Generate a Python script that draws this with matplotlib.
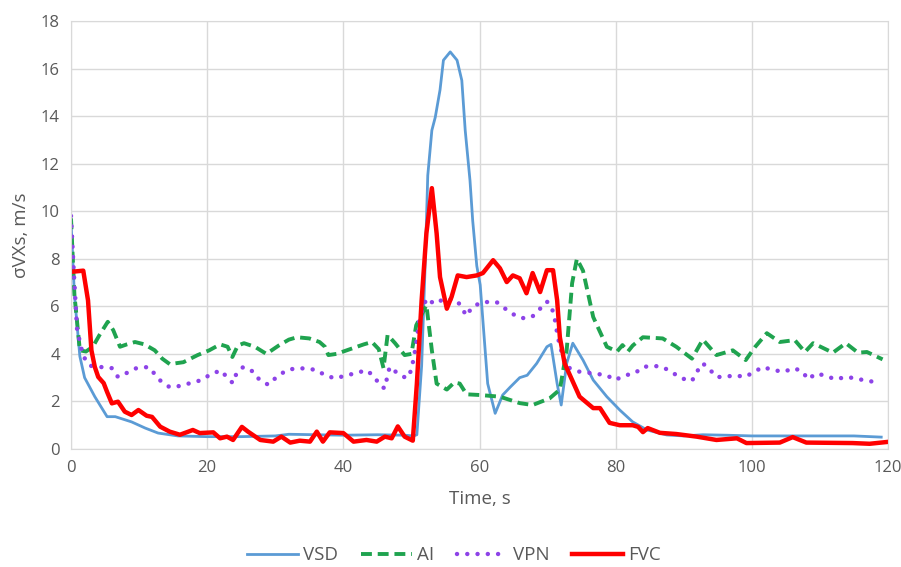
import matplotlib
matplotlib.use("Agg")
import matplotlib.pyplot as plt

plt.rcParams['font.family'] = ['Open Sans', 'DejaVu Sans']

# VSD (blue)
t_vsd = [0, 0.5, 1.3, 2, 3.5, 5.3, 6.5, 8.9, 10.9, 12.8, 15.7, 20, 25, 30, 32, 36, 40, 45, 49,
         50.3, 50.8, 51.5, 52, 52.4, 53, 53.5, 54.2, 54.7, 55.7, 56.7, 57.4, 57.9, 58.6, 59, 59.6,
         60.1, 61.2, 62.3, 63.4, 64.5, 65.9, 67, 68.4, 69.9, 70.5, 71.4, 72, 72.8, 73.7, 75.2,
         76.7, 78.7, 80.6, 82.5, 84.6, 87.5, 90, 92.8, 96.3, 100, 105, 110, 115, 119]
vsd = [9.6, 6.5, 3.9, 3.0, 2.2, 1.36, 1.36, 1.14, 0.88, 0.67, 0.55, 0.52, 0.52, 0.55, 0.62, 0.6, 0.58, 0.6, 0.58,
       0.55, 0.6, 3.5, 7.6, 11.5, 13.4, 13.95, 15.1, 16.35, 16.7, 16.35, 15.5, 13.4, 11.3, 9.6, 7.7,
       6.9, 2.75, 1.5, 2.27, 2.6, 3.0, 3.1, 3.6, 4.3, 4.4, 2.75, 1.85, 3.6, 4.45, 3.74,
       2.9, 2.2, 1.64, 1.14, 0.8, 0.59, 0.55, 0.6, 0.58, 0.55, 0.55, 0.55, 0.55, 0.5]

# AI (green dashed)
t_ai = [0, 0.5, 1.3, 2.2, 3.2, 4.2, 5.4, 6.2, 7.2, 8.2, 9.4, 10.8, 12.3, 13.4, 14.5, 16.5, 18.6,
        20.3, 21.9, 23, 23.7, 24.5, 25.4, 27, 28.7, 30.5, 32, 33.2, 35, 36.5, 37.3, 37.8, 39, 41,
        43, 44.2, 45.2, 45.9, 46.5, 47.6, 49, 50, 50.7, 52.2, 53, 53.7, 55.2, 56.3, 57.1, 58.1,
        60.1, 63, 65.9, 67.8, 70.3, 71.8, 72.8, 73.6, 74.3, 75.2, 76.7, 78.7, 80.2, 81, 81.8,
        82.5, 84, 86.9, 88.9, 91.2, 92.8, 94.8, 97.2, 99.1, 100.5, 102.2, 104.1, 106.3, 107.8,
        109, 111.9, 113.8, 115.6, 116.9, 119.2]
ai = [9.7, 6.5, 4.15, 4.1, 4.3, 4.8, 5.35, 5.0, 4.3, 4.4, 4.5, 4.4, 4.15, 3.8, 3.57, 3.65, 3.95,
      4.15, 4.4, 4.3, 3.87, 4.35, 4.45, 4.3, 4.0, 4.35, 4.6, 4.7, 4.65, 4.5, 4.3, 3.95, 4.0, 4.2,
      4.4, 4.5, 4.2, 3.4, 4.8, 4.45, 3.95, 4.0, 5.2, 6.05, 4.15, 2.75, 2.5, 2.8, 2.75, 2.3,
      2.27, 2.2, 1.93, 1.85, 2.13, 2.5, 4.15, 6.97, 8.0, 7.5, 5.55, 4.3, 4.1, 4.37, 4.1,
      4.35, 4.7, 4.65, 4.3, 3.8, 4.6, 3.95, 4.15, 3.74, 4.3, 4.87, 4.5, 4.58, 4.08,
      4.45, 4.05, 4.45, 4.05, 4.08, 3.77]

# VPN (purple dotted)
t_vpn = [0, 0.4, 0.9, 1.8, 2.8, 4.3, 6, 6.9, 8.2, 9.6, 11.4, 13.3, 14.5, 16, 17.5, 19.2, 20.7, 22.1,
         23, 23.8, 24.3, 25.3, 26.8, 27.7, 29, 30.2, 31.7, 33.2, 34.7, 36.1, 37.3, 38.8, 40.5, 42,
         43.4, 44.6, 45.4, 46.1, 46.4, 46.8, 48, 49.3, 50, 50.6, 51.2, 52.2, 53.4, 54.9, 56.7, 58.1,
         58.9, 60.4, 62.5, 64.7, 66.2, 67.7, 68.9, 69.9, 70.6, 71.1, 71.5, 72.1, 72.8, 74.7, 76.7,
         78.7, 79.9, 81.4, 82.8, 84, 85.5, 86.9, 88.4, 89.7, 91.2, 91.9, 92.8, 93.8, 94.8, 96, 97.5,
         99, 100.4, 101.6, 103.1, 104.7, 106.2, 107.5, 108.2, 109.5, 110.9, 112.3, 113.8, 115.3,
         116.9, 118.4]
vpn = [9.8, 7.5, 5.0, 3.9, 3.5, 3.45, 3.4, 3.03, 3.2, 3.4, 3.45, 2.82, 2.6, 2.65, 2.77, 2.9, 3.18, 3.3,
       2.97, 2.77, 3.18, 3.45, 3.25, 2.9, 2.7, 3.03, 3.32, 3.4, 3.38, 3.32, 3.1, 2.97, 3.1, 3.2,
       3.32, 3.03, 2.65, 2.55, 2.97, 3.45, 3.18, 2.97, 3.32, 4.24, 5.5, 6.33, 6.1, 6.33, 6.25, 5.6,
       5.97, 6.18, 6.18, 5.7, 5.5, 5.55, 5.9, 6.2, 5.97, 5.4, 4.7, 4.03, 3.45, 3.25, 3.18,
       3.1, 2.9, 3.1, 3.18, 3.45, 3.5, 3.45, 3.2, 2.97, 2.86, 3.24, 3.6, 3.35, 3.03, 3.03, 3.1,
       3.03, 3.25, 3.45, 3.32, 3.25, 3.4, 3.25, 2.93, 3.18, 3.07, 2.93, 3.03, 2.97,
       2.86, 2.82]

# FVC (red)
t_fvc = [0, 1.8, 2.5, 3, 3.5, 4, 4.8, 5.3, 6, 6.9, 7.9, 8.9, 9.9, 11.1, 11.9, 13.1, 14.5, 16, 17.9,
         18.9, 20.9, 21.9, 22.9, 23.8, 25.1, 26, 27.8, 29.7, 30.9, 32.2, 33.6, 35.1, 36.1, 37, 38,
         40, 41.5, 43.4, 44.9, 46.1, 47.1, 48, 49, 50.2, 50.8, 51.5, 52.2, 53, 53.7, 54.2, 55.2,
         55.9, 56.8, 58.1, 59.6, 60.5, 62, 63, 64, 64.9, 65.9, 66.9, 67.8, 68.9, 69.9, 70.8, 71.4,
         71.8, 72.5, 73.6, 74.7, 76.7, 77.7, 79.1, 80.6, 82.5, 83.3, 84, 84.7, 86.5, 88.9, 91.9,
         94.8, 97.8, 99.2, 104.1, 106, 108, 114.8, 117.3, 120]
fvc = [7.45, 7.5, 6.25, 4.15, 3.45, 3.03, 2.77, 2.4, 1.92, 1.99, 1.57, 1.43, 1.64, 1.4, 1.35, 0.94, 0.73, 0.6, 0.8,
       0.67, 0.7, 0.45, 0.52, 0.38, 0.93, 0.73, 0.38, 0.31, 0.52, 0.27, 0.35, 0.31, 0.73, 0.31, 0.7,
       0.67, 0.31, 0.38, 0.31, 0.52, 0.45, 0.95, 0.52, 0.35, 2.75, 6.26, 9.07, 10.97, 9.07, 7.23, 5.9,
       6.4, 7.3, 7.23, 7.3, 7.4, 7.94, 7.6, 7.02, 7.3, 7.18, 6.55, 7.4, 6.6, 7.52, 7.52, 6.26,
       4.7, 3.6, 2.9, 2.2, 1.72, 1.72, 1.1, 1.0, 1.0, 0.93, 0.71, 0.88, 0.68, 0.63, 0.52,
       0.38, 0.45, 0.25, 0.27, 0.5, 0.27, 0.25, 0.22, 0.3]

fig = plt.figure(figsize=(9.01, 5.67), dpi=100)
ax = fig.add_axes([0.0788, 0.2081, 0.9068, 0.7549])

ax.plot(t_vsd, vsd, color='#5b9bd5', lw=2, label='VSD')
ax.plot(t_ai, ai, color='#1fa34f', lw=2.8, ls=(0, (2.8, 1.5)), label='AI')
ax.plot(t_vpn, vpn, color='#8d43e8', lw=3.2, ls=(0, (0.01, 2.3)), dash_capstyle='round',
        solid_capstyle='round', label='VPN')
ax.plot(t_fvc, fvc, color='#ff0000', lw=3.2, label='FVC')

ax.set_xlim(0, 120)
ax.set_ylim(0, 18)
ax.set_xticks(range(0, 121, 20))
ax.set_yticks(range(0, 19, 2))
ax.grid(True, color='#d9d9d9', lw=1)
ax.set_axisbelow(True)
for s in ax.spines.values():
    s.set_color('#d9d9d9')
ax.tick_params(length=0, labelsize=12, colors='#595959', pad=8)

ax.set_xlabel('Time, s', fontsize=13.5, color='#595959', labelpad=10)
ax.set_ylabel('σVXs, m/s', fontsize=13.5, color='#595959', labelpad=8)

leg = ax.legend(loc='center', bbox_to_anchor=(0.469, -0.248), ncol=4, frameon=False,
                fontsize=13.5, handlelength=2.7, columnspacing=1.2, handletextpad=0.3)
for txt in leg.get_texts():
    txt.set_color('#595959')

fig.savefig('out.png', dpi=100)
